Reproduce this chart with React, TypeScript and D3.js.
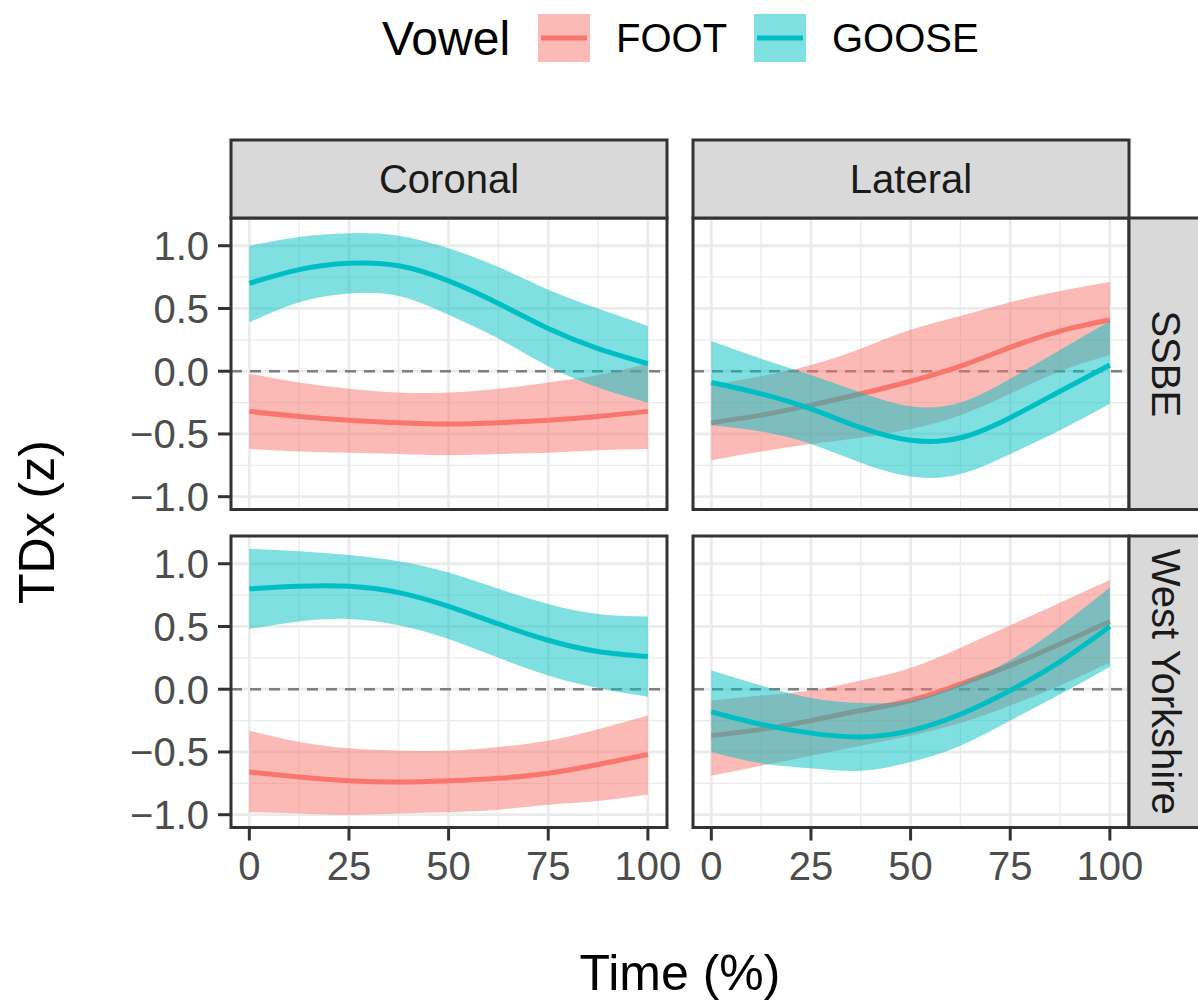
import React from "react";
import * as d3 from "d3";

const times = [0, 12.5, 25, 37.5, 50, 62.5, 75, 87.5, 100];
const vowels = ["FOOT", "GOOSE"];
const places = ["Coronal", "Lateral"];
const accents = ["SSBE", "West Yorkshire"];
const xTicks = [0, 25, 50, 75, 100];
const xMinor = [12.5, 37.5, 62.5, 87.5];
const yTicks = [-1, -0.5, 0, 0.5, 1];
const yMinor = [-0.75, -0.25, 0.25, 0.75];

// SSBE, Coronal
const ssbeCorFootFit = [-0.32, -0.36, -0.39, -0.41, -0.42, -0.41, -0.39, -0.36, -0.32];
const ssbeCorFootLo = [-0.62, -0.64, -0.65, -0.66, -0.67, -0.66, -0.65, -0.63, -0.62];
const ssbeCorFootHi = [-0.02, -0.09, -0.14, -0.17, -0.17, -0.14, -0.09, -0.03, 0.06];
const ssbeCorGooseFit = [0.7, 0.81, 0.86, 0.84, 0.72, 0.54, 0.34, 0.18, 0.06];
const ssbeCorGooseLo = [0.39, 0.55, 0.62, 0.6, 0.45, 0.26, 0.04, -0.13, -0.25];
const ssbeCorGooseHi = [1.0, 1.07, 1.1, 1.08, 0.98, 0.83, 0.65, 0.5, 0.36];

// SSBE, Lateral
const ssbeLatFootFit = [-0.41, -0.35, -0.27, -0.18, -0.08, 0.04, 0.19, 0.32, 0.41];
const ssbeLatFootLo = [-0.71, -0.64, -0.58, -0.53, -0.46, -0.35, -0.18, 0.0, 0.13];
const ssbeLatFootHi = [-0.11, -0.04, 0.05, 0.18, 0.33, 0.44, 0.55, 0.64, 0.71];
const ssbeLatGooseFit = [-0.09, -0.18, -0.3, -0.45, -0.55, -0.53, -0.37, -0.16, 0.05];
const ssbeLatGooseLo = [-0.43, -0.48, -0.58, -0.73, -0.84, -0.82, -0.66, -0.47, -0.26];
const ssbeLatGooseHi = [0.24, 0.1, -0.03, -0.17, -0.28, -0.25, -0.06, 0.17, 0.4];

// West Yorkshire, Coronal
const wyCorFootFit = [-0.66, -0.7, -0.73, -0.74, -0.73, -0.71, -0.67, -0.6, -0.52];
const wyCorFootLo = [-0.98, -0.99, -1.0, -0.99, -0.98, -0.96, -0.92, -0.89, -0.84];
const wyCorFootHi = [-0.33, -0.42, -0.47, -0.49, -0.49, -0.46, -0.41, -0.32, -0.21];
const wyCorGooseFit = [0.8, 0.82, 0.82, 0.77, 0.66, 0.52, 0.39, 0.3, 0.26];
const wyCorGooseLo = [0.48, 0.54, 0.56, 0.51, 0.4, 0.25, 0.11, 0.01, -0.06];
const wyCorGooseHi = [1.12, 1.1, 1.07, 1.02, 0.93, 0.8, 0.68, 0.6, 0.58];

// West Yorkshire, Lateral
const wyLatFootFit = [-0.37, -0.32, -0.25, -0.17, -0.09, 0.04, 0.19, 0.36, 0.54];
const wyLatFootLo = [-0.69, -0.61, -0.53, -0.45, -0.37, -0.27, -0.13, 0.03, 0.21];
const wyLatFootHi = [-0.09, -0.05, -0.01, 0.07, 0.17, 0.33, 0.51, 0.69, 0.87];
const wyLatGooseFit = [-0.18, -0.28, -0.35, -0.38, -0.33, -0.2, -0.01, 0.22, 0.5];
const wyLatGooseLo = [-0.5, -0.59, -0.63, -0.65, -0.58, -0.45, -0.25, -0.04, 0.18];
const wyLatGooseHi = [0.15, 0.03, -0.07, -0.11, -0.09, 0.04, 0.23, 0.5, 0.81];

const curves: Record<string, { fit: number[]; lo: number[]; hi: number[] }> = {
  "SSBE|Coronal|FOOT": { fit: ssbeCorFootFit, lo: ssbeCorFootLo, hi: ssbeCorFootHi },
  "SSBE|Coronal|GOOSE": { fit: ssbeCorGooseFit, lo: ssbeCorGooseLo, hi: ssbeCorGooseHi },
  "SSBE|Lateral|FOOT": { fit: ssbeLatFootFit, lo: ssbeLatFootLo, hi: ssbeLatFootHi },
  "SSBE|Lateral|GOOSE": { fit: ssbeLatGooseFit, lo: ssbeLatGooseLo, hi: ssbeLatGooseHi },
  "West Yorkshire|Coronal|FOOT": { fit: wyCorFootFit, lo: wyCorFootLo, hi: wyCorFootHi },
  "West Yorkshire|Coronal|GOOSE": { fit: wyCorGooseFit, lo: wyCorGooseLo, hi: wyCorGooseHi },
  "West Yorkshire|Lateral|FOOT": { fit: wyLatFootFit, lo: wyLatFootLo, hi: wyLatFootHi },
  "West Yorkshire|Lateral|GOOSE": { fit: wyLatGooseFit, lo: wyLatGooseLo, hi: wyLatGooseHi },
};

const colors: Record<string, string> = { FOOT: "#F8766D", GOOSE: "#00BFC4" };

const W = 1198;
const H = 1001;
const panelX = [231, 693];
const panelW = 436;
const panelY = [218, 536];
const panelH = 291.5;
const stripH = 78;
const font = "'Liberation Sans', Arial, sans-serif";
const tickSize = 40;

const fmt = d3.format(".1f");

const App: React.FC = () => {
  const panels: React.ReactNode[] = [];

  accents.forEach((accent, r) => {
    places.forEach((place, c) => {
      const px = panelX[c];
      const py = panelY[r];
      const x = d3.scaleLinear().domain([-4.6, 104.8]).range([px, px + panelW]);
      const y = d3.scaleLinear().domain([-1.102, 1.221]).range([py + panelH, py]);

      const key = `${accent}|${place}`;
      panels.push(
        <g key={key}>
          <rect x={px} y={py} width={panelW} height={panelH} fill="#fff" />
          {yMinor.map((t) => (
            <line key={`ym${t}`} x1={px} x2={px + panelW} y1={y(t)} y2={y(t)} stroke="#EBEBEB" strokeWidth={1.3} />
          ))}
          {xMinor.map((t) => (
            <line key={`xm${t}`} y1={py} y2={py + panelH} x1={x(t)} x2={x(t)} stroke="#EBEBEB" strokeWidth={1.3} />
          ))}
          {yTicks.map((t) => (
            <line key={`yM${t}`} x1={px} x2={px + panelW} y1={y(t)} y2={y(t)} stroke="#EBEBEB" strokeWidth={2.8} />
          ))}
          {xTicks.map((t) => (
            <line key={`xM${t}`} y1={py} y2={py + panelH} x1={x(t)} x2={x(t)} stroke="#EBEBEB" strokeWidth={2.8} />
          ))}
          <line x1={px} x2={px + panelW} y1={y(0)} y2={y(0)} stroke="#7F7F7F" strokeWidth={2.6} strokeDasharray="11 8" />
          {vowels.map((v) => {
            const cv = curves[`${key}|${v}`];
            const band = d3
              .area<number>()
              .x((_, i) => x(times[i]))
              .y0((_, i) => y(cv.lo[i]))
              .y1((_, i) => y(cv.hi[i]))
              .curve(d3.curveNatural);
            const line = d3
              .line<number>()
              .x((_, i) => x(times[i]))
              .y((d) => y(d))
              .curve(d3.curveNatural);
            return (
              <g key={v}>
                <path d={band(cv.fit) || ""} fill={colors[v]} fillOpacity={0.5} />
                <path d={line(cv.fit) || ""} fill="none" stroke={colors[v]} strokeWidth={5} />
              </g>
            );
          })}
          <rect x={px} y={py} width={panelW} height={panelH} fill="none" stroke="#333333" strokeWidth={3} />
          {c === 0 &&
            yTicks.map((t) => (
              <g key={`yt${t}`}>
                <line x1={px - 13} x2={px} y1={y(t)} y2={y(t)} stroke="#333333" strokeWidth={3} />
                <text x={px - 22} y={y(t)} dy="0.36em" textAnchor="end" fontSize={tickSize} fill="#4D4D4D" fontFamily={font}>
                  {fmt(t)}
                </text>
              </g>
            ))}
          {r === 1 &&
            xTicks.map((t) => (
              <g key={`xt${t}`}>
                <line x1={x(t)} x2={x(t)} y1={py + panelH} y2={py + panelH + 13} stroke="#333333" strokeWidth={3} />
                <text x={x(t)} y={py + panelH + 52} textAnchor="middle" fontSize={tickSize} fill="#4D4D4D" fontFamily={font}>
                  {t}
                </text>
              </g>
            ))}
          {r === 0 && (
            <g>
              <rect x={px} y={py - stripH} width={panelW} height={stripH} fill="#D9D9D9" stroke="#333333" strokeWidth={3} />
              <text x={px + panelW / 2} y={py - stripH / 2} dy="0.36em" textAnchor="middle" fontSize={tickSize} fill="#1A1A1A" fontFamily={font}>
                {place}
              </text>
            </g>
          )}
          {c === 1 && (
            <g>
              <rect x={px + panelW} y={py} width={stripH} height={panelH} fill="#D9D9D9" stroke="#333333" strokeWidth={3} />
              <text
                transform={`translate(${px + panelW + 37},${py + panelH / 2}) rotate(90)`}
                dy="0.36em"
                textAnchor="middle"
                fontSize={tickSize}
                fill="#1A1A1A"
                fontFamily={font}
              >
                {accent}
              </text>
            </g>
          )}
        </g>
      );
    });
  });

  const legendY = 38;
  const swatchX = [538, 754];
  const labelX = [616, 832];

  return (
    <svg width={W} height={H} style={{ position: "absolute", left: 0, top: 0 }}>
      <rect width={W} height={H} fill="#fff" />
      {panels}
      <text x={680} y={972} dy="0.36em" textAnchor="middle" fontSize={50} fontFamily={font} fill="#000">
        Time (%)
      </text>
      <text transform={`translate(36,522) rotate(-90)`} dy="0.36em" textAnchor="middle" fontSize={50} fontFamily={font} fill="#000">
        TDx (z)
      </text>
      <text x={382} y={legendY} dy="0.36em" fontSize={48} fontFamily={font} fill="#000">
        Vowel
      </text>
      {vowels.map((v, i) => (
        <g key={v}>
          <rect x={swatchX[i]} y={legendY - 24} width={52} height={48} fill={colors[v]} fillOpacity={0.5} />
          <line x1={swatchX[i] + 3} x2={swatchX[i] + 49} y1={legendY} y2={legendY} stroke={colors[v]} strokeWidth={5} />
          <text x={labelX[i]} y={legendY} dy="0.36em" fontSize={40} fontFamily={font} fill="#000">
            {v}
          </text>
        </g>
      ))}
    </svg>
  );
};

export default App;
